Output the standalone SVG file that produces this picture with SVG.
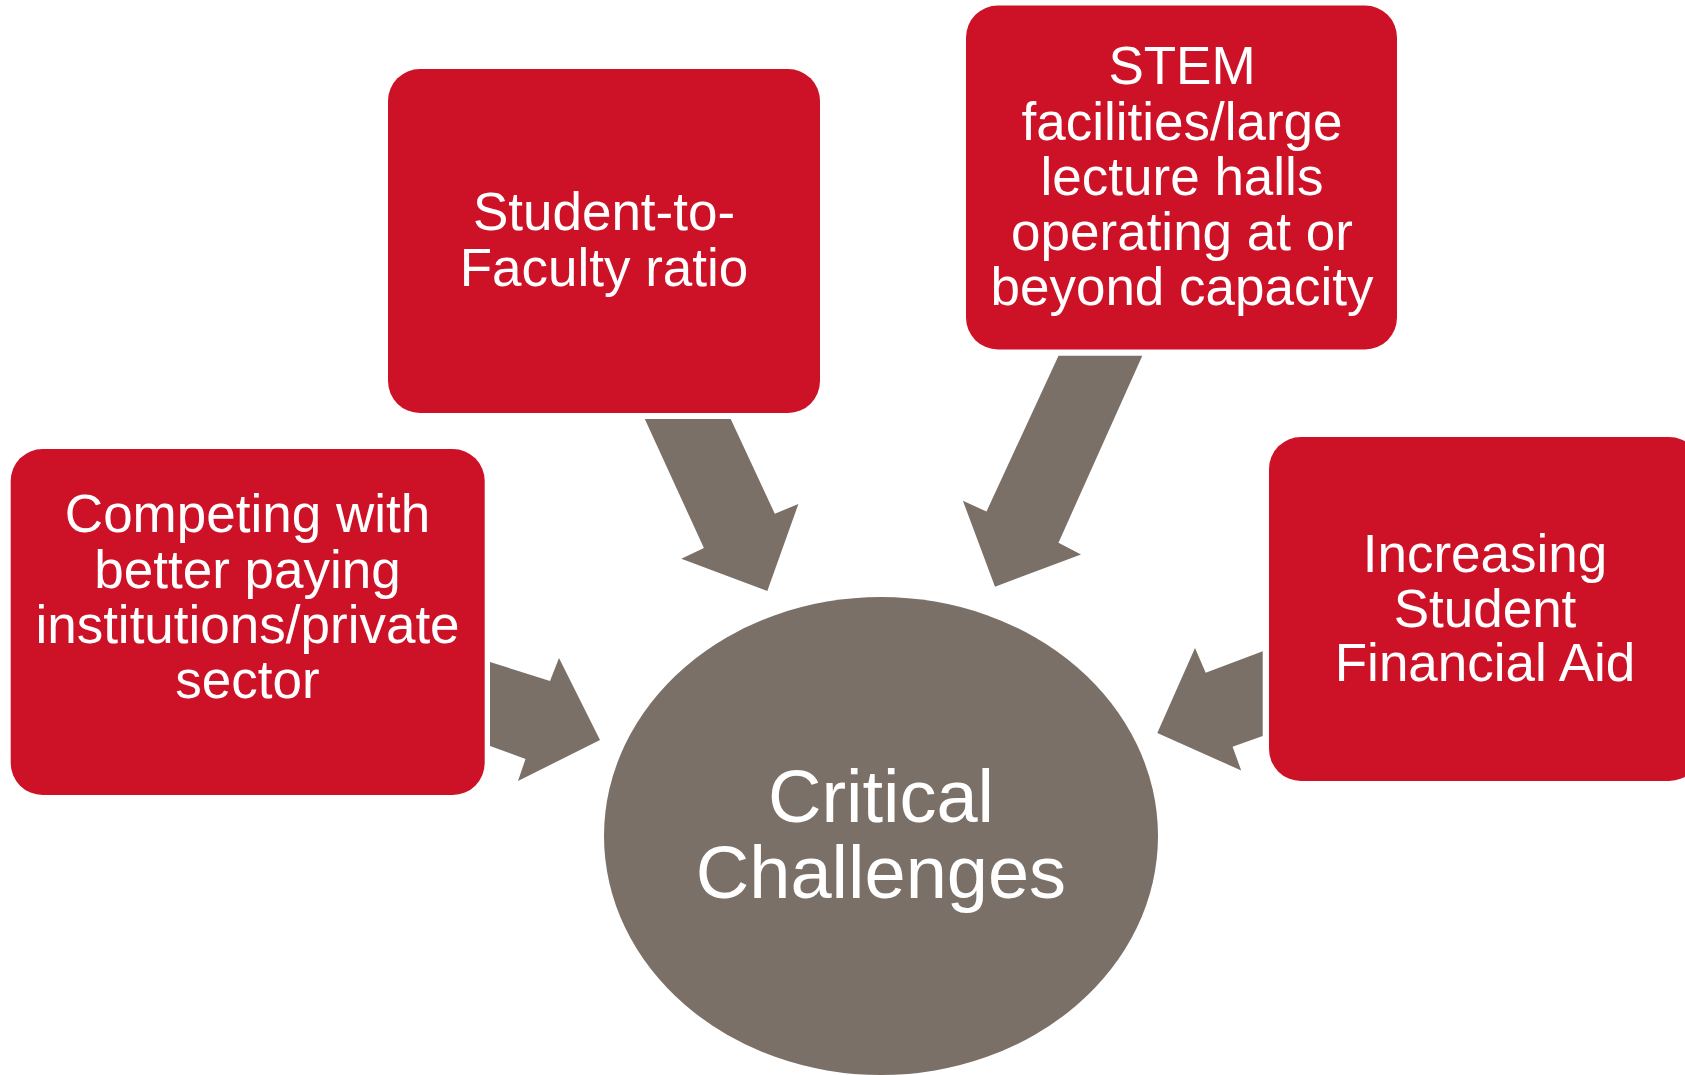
<svg xmlns="http://www.w3.org/2000/svg" width="1685" height="1075" viewBox="0 0 1685 1075">
<style>
.box{fill:#CD1228;}
.arr{fill:#7B7068;}
.t{font-family:"Liberation Sans",Arial,sans-serif;fill:#FFFFFF;text-anchor:middle;font-size:53px;}
.tc{font-family:"Liberation Sans",Arial,sans-serif;fill:#FFFFFF;text-anchor:middle;font-size:74px;}
</style>
<rect width="1685" height="1075" fill="#FFFFFF"/>
<g id="connectors">
<polygon class="arr" points="490,662 550,681 559,658 600,740 518,781 525.5,759 490,746"/>
<polygon class="arr" points="644.8,419 730.7,419 774.8,513.7 798.4,504 767.3,591 681.3,558.8 703.9,548"/>
<polygon class="arr" points="1058.5,355.7 1142.3,355.7 1058.5,542.7 1081,554.5 995,586.7 962.9,500.8 986.5,511.5"/>
<polygon class="arr" points="1262.7,651.2 1262.7,736 1232.6,746.8 1241.2,770.5 1157.3,732.9 1195,648 1205.7,672.7"/>
</g>
<g id="center">
<ellipse class="arr" cx="881" cy="836" rx="277" ry="239"/>
<text class="tc" x="881" y="822">Critical</text>
<text class="tc" x="881" y="898">Challenges</text>
</g>
<g id="competing">
<rect class="box" x="10.7" y="449" width="474" height="346" rx="32" ry="32"/>
<text class="t" x="247.5" y="532">Competing with</text>
<text class="t" x="247.5" y="588">better paying</text>
<text class="t" x="247.5" y="643">institutions/private</text>
<text class="t" x="247.5" y="698">sector</text>
</g>
<g id="ratio">
<rect class="box" x="388" y="69" width="432" height="344" rx="32" ry="32"/>
<text class="t" x="604" y="230">Student-to-</text>
<text class="t" x="604" y="286">Faculty ratio</text>
</g>
<g id="stem">
<rect class="box" x="966" y="5.5" width="431" height="344" rx="32" ry="32"/>
<text class="t" x="1182" y="84">STEM</text>
<text class="t" x="1182" y="140">facilities/large</text>
<text class="t" x="1182" y="195">lecture halls</text>
<text class="t" x="1182" y="250">operating at or</text>
<text class="t" x="1182" y="305">beyond capacity</text>
</g>
<g id="aid">
<rect class="box" x="1269" y="437" width="432" height="344" rx="32" ry="32"/>
<text class="t" x="1485" y="572">Increasing</text>
<text class="t" x="1485" y="627">Student</text>
<text class="t" x="1485" y="681">Financial Aid</text>
</g>
</svg>
